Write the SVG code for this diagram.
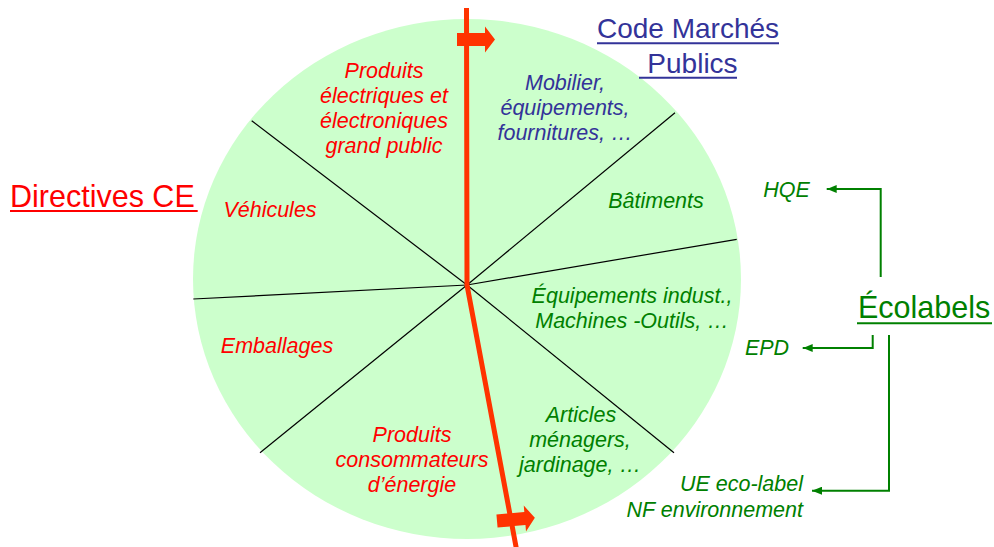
<svg xmlns="http://www.w3.org/2000/svg" width="994" height="547" viewBox="0 0 994 547">
<style>
.lbl{font-family:"Liberation Sans",Arial,sans-serif;font-style:italic;font-size:21.5px;text-anchor:middle}
.red{fill:#FF0000}.navy{fill:#333399}.grn{fill:#008000}
.title{font-family:"Liberation Sans",Arial,sans-serif;font-size:30.5px}
.div{stroke:#000;stroke-width:1.2;fill:none}
.gl{stroke:#008000;stroke-width:2;fill:none}
</style>
<defs>
<marker id="ah" viewBox="0 0 10 8" refX="10" refY="4" markerWidth="10" markerHeight="8" markerUnits="userSpaceOnUse" orient="auto">
<path d="M0,0 L10,4 L0,8 Z" fill="#008000"/>
</marker>
<path id="blk" d="M0,-6.5 H28 V-13 L38,0 L28,13 V6.5 H0 Z" fill="#FF3300"/>
</defs>
<g id="disc">
<ellipse cx="467" cy="279" rx="274" ry="260" fill="#CCFFCC"/>
<g id="dividers">
<line class="div" x1="467" y1="285" x2="251.7" y2="120.7"/>
<line class="div" x1="467" y1="285" x2="675" y2="112.7"/>
<line class="div" x1="467" y1="285" x2="736.7" y2="239.3"/>
<line class="div" x1="467" y1="285" x2="193.3" y2="299"/>
<line class="div" x1="467" y1="285" x2="260" y2="452.7"/>
<line class="div" x1="467" y1="285" x2="674" y2="452.7"/>
</g>
</g>
<g id="redaxis">
<polyline points="466.5,8 467,285 517,552" fill="none" stroke="#FF3300" stroke-width="5" stroke-linejoin="round"/>
<use href="#blk" transform="translate(457,39.5)"/>
<use href="#blk" transform="translate(497,521) rotate(-5)"/>
</g>
<g id="seg-electriques"><text class="lbl red" x="384" y="78">Produits</text><text class="lbl red" x="384" y="103">électriques et</text><text class="lbl red" x="384" y="128">électroniques</text><text class="lbl red" x="384" y="153">grand public</text></g>
<g id="seg-mobilier"><text class="lbl navy" x="565" y="90">Mobilier,</text><text class="lbl navy" x="565" y="115">équipements,</text><text class="lbl navy" x="565" y="140">fournitures, …</text></g>
<g id="seg-vehicules"><text class="lbl red" x="270" y="217">Véhicules</text></g>
<g id="seg-batiments"><text class="lbl grn" x="656" y="208">Bâtiments</text></g>
<g id="seg-emballages"><text class="lbl red" x="277" y="353">Emballages</text></g>
<g id="seg-equipements"><text class="lbl grn" x="632" y="303">Équipements indust.,</text><text class="lbl grn" x="632" y="328">Machines -Outils, …</text></g>
<g id="seg-articles"><text class="lbl grn" x="581" y="422">Articles</text><text class="lbl grn" x="580" y="447">ménagers,</text><text class="lbl grn" x="580" y="472">jardinage, …</text></g>
<g id="seg-energie"><text class="lbl red" x="412" y="442">Produits</text><text class="lbl red" x="412" y="467">consommateurs</text><text class="lbl red" x="412" y="492">d’énergie</text></g>
<g id="directives"><text class="title red" x="10" y="207">Directives CE</text><line x1="10" y1="211" x2="197.7" y2="211" stroke="#FF0000" stroke-width="2"/></g>
<g id="code-marches"><text class="title navy" x="688" y="38" style="text-anchor:middle;font-size:28px">Code Marchés</text><text class="title navy" x="692.5" y="73" style="text-anchor:middle;font-size:28px">Publics</text><line x1="597" y1="43.3" x2="779" y2="43.3" stroke="#333399" stroke-width="2"/><line x1="639" y1="77.7" x2="737" y2="77.7" stroke="#333399" stroke-width="2"/></g>
<g id="ecolabels"><text class="title grn" x="858" y="318">Écolabels</text><line x1="857" y1="323.3" x2="992" y2="323.3" stroke="#008000" stroke-width="2"/></g>
<g id="hqe"><text class="lbl grn" x="786.5" y="197">HQE</text></g>
<g id="epd"><text class="lbl grn" x="767" y="355">EPD</text></g>
<g id="ue"><text class="lbl grn" x="803" y="491" style="text-anchor:end">UE eco-label</text><text class="lbl grn" x="803" y="517" style="text-anchor:end">NF environnement</text></g>
<g id="connectors">
<polyline class="gl" points="880.7,277 880.7,189 826.7,189" marker-end="url(#ah)"/>
<polyline class="gl" points="872.7,335 872.7,348 802.7,348" marker-end="url(#ah)"/>
<polyline class="gl" points="889,335 889,490.7 812,490.7" marker-end="url(#ah)"/>
</g>
</svg>
